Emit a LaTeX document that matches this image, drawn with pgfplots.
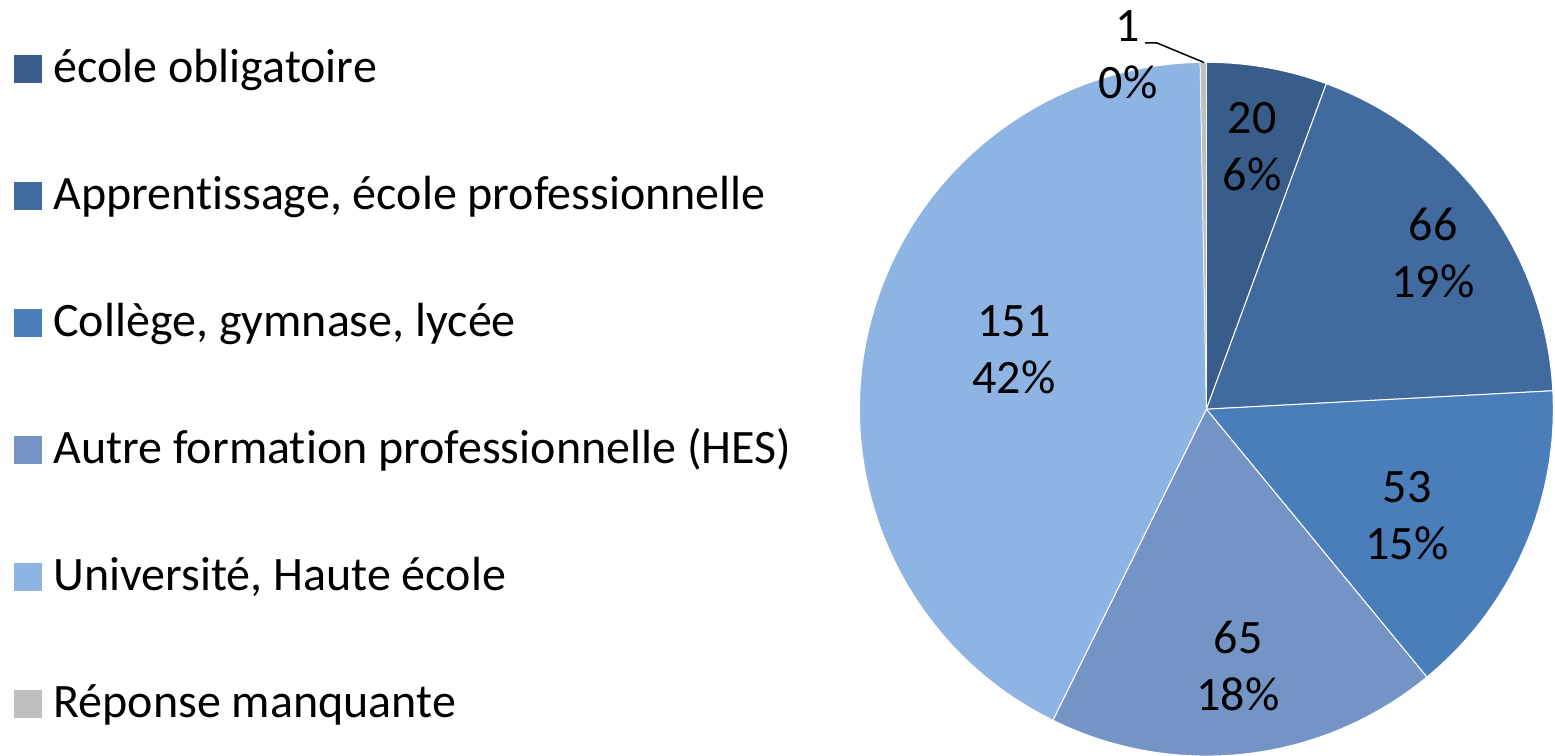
\documentclass[border=0pt]{standalone}
\usepackage{pgfplots}
\pgfplotsset{compat=1.18}
\usepackage{pgfplotstable}
\usepackage{fontspec}
\setmainfont{Carlito}[Ligatures=NoCommon]
\definecolor{c1}{HTML}{385D8A}
\definecolor{c2}{HTML}{416B9E}
\definecolor{c3}{HTML}{4A7EBB}
\definecolor{c4}{HTML}{7494C5}
\definecolor{c5}{HTML}{8EB4E3}
\definecolor{c6}{HTML}{BFBFBF}
\pgfplotstableread{
value pct lx ly
20 6 1252 147
66 19 1433 253
53 15 1407 516
65 18 1238 666
151 42 1014 350
1 0 1128 55
}\piedata
\newcommand\getv[2]{\pgfplotstablegetelem{#1}{value}\of\piedata\global\let#2\pgfplotsretval}
\newcommand\bigfont{\fontsize{48}{57}\selectfont}
\begin{document}
\begin{tikzpicture}
\getv{0}\vA \getv{1}\vB \getv{2}\vC \getv{3}\vD \getv{4}\vE \getv{5}\vF
\pgfmathsetmacro\tot{\vA+\vB+\vC+\vD+\vE+\vF}
\pgfmathsetmacro\aA{90}
\pgfmathsetmacro\aB{\aA-360*(\vA/\tot)}
\pgfmathsetmacro\aC{\aB-360*(\vB/\tot)}
\pgfmathsetmacro\aD{\aC-360*(\vC/\tot)}
\pgfmathsetmacro\aE{\aD-360*(\vD/\tot)}
\pgfmathsetmacro\aF{\aE-360*(\vE/\tot)}
\pgfmathsetmacro\aG{\aF-360*(\vF/\tot)}
\def\cx{1206.4}\def\cy{345.8}\def\R{346.9}
\begin{axis}[
  hide axis, x=1pt, y=1pt, xmin=0, xmax=1555, ymin=0, ymax=755,
  scale only axis, clip=true,
  legend cell align=left,
  legend style={draw=none, fill=none, inner sep=0pt, outer sep=0pt,
    at={(axis cs:14,700)}, anchor=north west,
    font=\bigfont, row sep=99.6pt, column sep=12pt,
    cells={anchor=base west},
    nodes={inner sep=0pt, outer sep=0pt, text height=27pt, text depth=0pt}},
]
\addlegendimage{legend image code/.code={\fill[c1] (0pt,0pt) rectangle (27pt,27pt);}}
\addlegendentry{école obligatoire}
\addlegendimage{legend image code/.code={\fill[c2] (0pt,0pt) rectangle (27pt,27pt);}}
\addlegendentry{Apprentissage, école professionnelle}
\addlegendimage{legend image code/.code={\fill[c3] (0pt,0pt) rectangle (27pt,27pt);}}
\addlegendentry{Collège, gymnase, lycée}
\addlegendimage{legend image code/.code={\fill[c4] (0pt,0pt) rectangle (27pt,27pt);}}
\addlegendentry{Autre formation professionnelle (HES)}
\addlegendimage{legend image code/.code={\fill[c5] (0pt,0pt) rectangle (27pt,27pt);}}
\addlegendentry{Université, Haute école}
\addlegendimage{legend image code/.code={\fill[c6] (0pt,0pt) rectangle (27pt,27pt);}}
\addlegendentry{Réponse manquante}

\fill[c1, draw=white, line width=1pt] (axis cs:\cx,\cy) -- ++(\aA:\R pt) arc[start angle=\aA, end angle=\aB, radius=\R pt] -- cycle;
\fill[c2, draw=white, line width=1pt] (axis cs:\cx,\cy) -- ++(\aB:\R pt) arc[start angle=\aB, end angle=\aC, radius=\R pt] -- cycle;
\fill[c3, draw=white, line width=1pt] (axis cs:\cx,\cy) -- ++(\aC:\R pt) arc[start angle=\aC, end angle=\aD, radius=\R pt] -- cycle;
\fill[c4, draw=white, line width=1pt] (axis cs:\cx,\cy) -- ++(\aD:\R pt) arc[start angle=\aD, end angle=\aE, radius=\R pt] -- cycle;
\fill[c5, draw=white, line width=1pt] (axis cs:\cx,\cy) -- ++(\aE:\R pt) arc[start angle=\aE, end angle=\aF, radius=\R pt] -- cycle;
\fill[c6, draw=white, line width=0.5pt] (axis cs:\cx,\cy) -- ++(\aF:\R pt) arc[start angle=\aF, end angle=\aG, radius=\R pt] -- cycle;

\draw[black, line width=1.5pt] (axis cs:1145,712) -- (axis cs:1157,712) -- (axis cs:1204,692.5);
\node[align=center, font=\bigfont] at (axis cs:1252,608) {20\\6\%};
\node[align=center, font=\bigfont] at (axis cs:1433,502) {66\\19\%};
\node[align=center, font=\bigfont] at (axis cs:1407,239) {53\\15\%};
\node[align=center, font=\bigfont] at (axis cs:1238,89) {65\\18\%};
\node[align=center, font=\bigfont] at (axis cs:1014,405) {151\\42\%};
\node[align=center, font=\bigfont] at (axis cs:1128,700) {1\\0\%};
\end{axis}
\pgfresetboundingbox
\path (current axis.south west) rectangle (current axis.north east);
\end{tikzpicture}
\end{document}
